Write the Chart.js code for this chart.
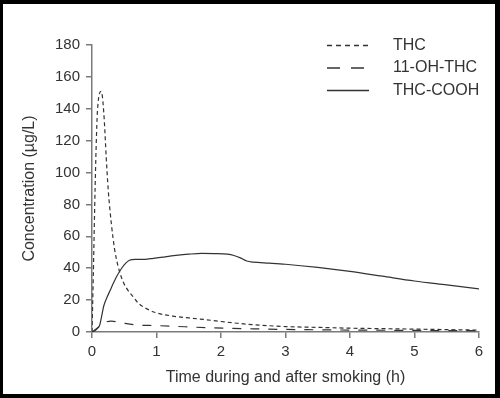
<!DOCTYPE html>
<html lang="en">
<head>
  <meta charset="UTF-8">
  <title>THC concentration after smoking</title>
  <script src="https://cdn.jsdelivr.net/npm/chart.js"></script>
  <style>
    body {
      margin: 0;
      background: #000;
      width: 500px;
      height: 398px;
      overflow: hidden;
    }
    #wrap {
      position: absolute;
      left: 3px;
      top: 4px;
      width: 492px;
      height: 390px;
      background: #fff;
    }
  </style>
</head>
<body>
  <div id="wrap">
    <canvas id="pkChart" width="492" height="390"></canvas>
  </div>

  <script>
    // values (hours, µg/L)
    const thcTime = [0, 0.02, 0.04, 0.06, 0.08, 0.1, 0.12, 0.14, 0.16, 0.19, 0.22, 0.25, 0.3, 0.35, 0.4, 0.45, 0.5, 0.56, 0.64, 0.72, 0.85, 1.0, 1.25, 1.5, 1.75, 2.0, 2.25, 2.5, 3.0, 3.5, 4.0, 4.5, 5.0, 5.5, 6.0];
    const thcConc = [0, 35, 75, 110, 135, 146, 150, 151, 148, 133, 110, 90, 68, 52, 42, 35, 30, 26, 22, 18, 14.5, 12, 10, 8.8, 7.8, 6.6, 5.5, 4.6, 3.4, 2.9, 2.4, 2.1, 1.8, 1.5, 1.2];

    const ohTime = [0, 0.1, 0.2, 0.3, 0.43, 0.67, 1.0, 1.44, 1.8, 2.14, 2.5, 3.0, 3.5, 4.0, 4.5, 5.0, 5.5, 6.0];
    const ohConc = [0, 3, 6, 6.8, 6, 4.5, 4, 3.3, 2.7, 2.3, 2, 1.6, 1.4, 1.2, 1.1, 1, 0.9, 0.8];

    const coohTime = [0, 0.05, 0.1, 0.12, 0.15, 0.18, 0.23, 0.28, 0.33, 0.38, 0.46, 0.52, 0.58, 0.67, 0.82, 0.95, 1.1, 1.3, 1.5, 1.7, 1.9, 2.1, 2.2, 2.3, 2.4, 2.5, 2.75, 3.0, 3.5, 4.0, 4.5, 5.0, 5.5, 6.0];
    const coohConc = [0, 1, 3, 4.4, 10, 16, 21.5, 26, 30.5, 34.7, 40, 43, 45, 45.6, 45.6, 46.2, 47, 48, 48.8, 49.3, 49.2, 48.8, 48, 46.5, 44.5, 43.8, 43.2, 42.5, 40.5, 38, 35, 32, 29.5, 27];

    const seriesNames = ['THC', '11-OH-THC', 'THC-COOH'];
    const yTicks = [0, 20, 40, 60, 80, 100, 120, 140, 160, 180];
    const xTicks = [0, 1, 2, 3, 4, 5, 6];

    const pts = (ts, vs) => ts.map((t, i) => ({ x: t, y: vs[i] }));
    const font = "'Liberation Sans', Arial, Helvetica, sans-serif";
    const ink = '#333';
    const axisCol = '#7a7a7a';

    // legend drawn by hand, top right like the figure
    const cornerLegend = {
      id: 'cornerLegend',
      afterDraw(chart) {
        const ctx = chart.ctx;
        const rows = [41.5, 64, 86.5];
        ctx.save();
        ctx.font = '16px ' + font;
        ctx.textBaseline = 'middle';
        chart.data.datasets.forEach((ds, i) => {
          const y = rows[i];
          ctx.strokeStyle = ds.borderColor;
          ctx.lineWidth = 1.3;
          ctx.setLineDash(ds.legendDash || []);
          ctx.beginPath();
          ctx.moveTo(324, y);
          ctx.lineTo(366, y);
          ctx.stroke();
          ctx.setLineDash([]);
          ctx.fillStyle = ink;
          ctx.fillText(ds.label, 390, y);
        });
        ctx.restore();
      }
    };

    new Chart(document.getElementById('pkChart'), {
      type: 'line',
      data: {
        datasets: [
          {
            label: seriesNames[0],
            data: pts(thcTime, thcConc),
            borderColor: ink,
            borderWidth: 1.2,
            borderDash: [4, 3],
            legendDash: [5, 4],
            pointRadius: 0,
            cubicInterpolationMode: 'monotone'
          },
          {
            label: seriesNames[1],
            data: pts(ohTime, ohConc),
            borderColor: ink,
            borderWidth: 1.2,
            borderDash: [9, 9],
            legendDash: [13, 11],
            pointRadius: 0,
            cubicInterpolationMode: 'monotone'
          },
          {
            label: seriesNames[2],
            data: pts(coohTime, coohConc),
            borderColor: ink,
            borderWidth: 1.2,
            pointRadius: 0,
            cubicInterpolationMode: 'monotone'
          }
        ]
      },
      options: {
        responsive: false,
        animation: false,
        layout: { padding: { left: 0, top: 41, right: 16, bottom: 0 } },
        plugins: {
          legend: { display: false },
          tooltip: { enabled: false }
        },
        scales: {
          x: {
            type: 'linear',
            min: 0,
            max: 6,
            afterFit: s => { s.height = 62; },
            afterBuildTicks: s => { s.ticks = xTicks.map(v => ({ value: v })); },
            border: { display: true, color: axisCol, width: 1.5 },
            grid: { drawOnChartArea: false, drawTicks: true, tickLength: 6, color: axisCol, lineWidth: 1.5 },
            ticks: { color: ink, font: { family: font, size: 15 }, padding: 5, maxRotation: 0 },
            title: {
              display: true,
              text: 'Time during and after smoking (h)',
              color: ink,
              font: { family: font, size: 16 },
              padding: { top: 0, bottom: 7 }
            }
          },
          y: {
            min: 0,
            max: 180,
            afterFit: s => { s.width = 89; },
            afterBuildTicks: s => { s.ticks = yTicks.map(v => ({ value: v })); },
            border: { display: true, color: axisCol, width: 1.5 },
            grid: { drawOnChartArea: false, drawTicks: true, tickLength: 6, color: axisCol, lineWidth: 1.5 },
            ticks: { color: ink, font: { family: font, size: 15 }, padding: 6 },
            title: {
              display: true,
              text: 'Concentration (µg/L)',
              color: ink,
              font: { family: font, size: 16 },
              padding: { top: 17, bottom: 0 }
            }
          }
        }
      },
      plugins: [cornerLegend]
    });
  </script>
</body>
</html>
